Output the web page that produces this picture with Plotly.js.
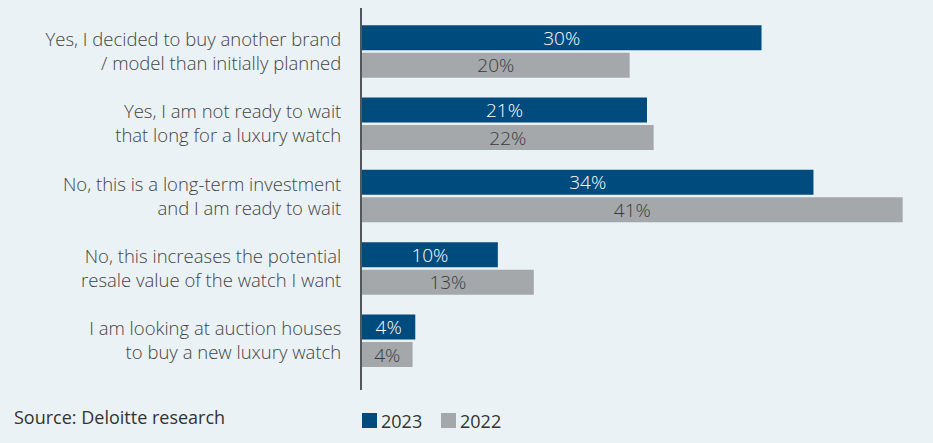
<!DOCTYPE html>
<html>
<head>
<meta charset="utf-8">
<script src="https://cdn.plot.ly/plotly-3.0.1.min.js"></script>
<style>
  html, body { margin: 0; padding: 0; background: #eaf2f6; }
  #chart { width: 933px; height: 443px; }
</style>
</head>
<body>
<div id="chart"></div>
<script>
// Answers, top to bottom
const categories = [
  "Yes, I decided to buy another brand<br>/ model than initially planned",
  "Yes, I am not ready to wait<br>that long for a luxury watch",
  "No, this is a long-term investment<br>and I am ready to wait",
  "No, this increases the potential<br>resale value of the watch I want",
  "I am looking at auction houses<br>to buy a new luxury watch"
];

// Share of respondents (%), bar lengths
const values2023 = [30.0, 21.4, 33.9, 10.2, 4.0];
const values2022 = [20.1, 21.9, 40.6, 12.9, 3.8];

// Printed labels
const labels2023 = ["30%", "21%", "34%", "10%", "4%"];
const labels2022 = ["20%", "22%", "41%", "13%", "4%"];

const seriesNames = ["2023", "2022"];
const seriesColors = ["#004b7d", "#a5a8ab"];

const labelFont = "Open Sans, sans-serif";

let trace2023 = {
  type: "bar",
  orientation: "h",
  name: seriesNames[0],
  y: categories,
  x: values2023,
  text: labels2023,
  textposition: "inside",
  insidetextanchor: "middle",
  textangle: 0,
  constraintext: "none",
  textfont: { family: labelFont, size: 19, color: "#ffffff", weight: 300 },
  marker: { color: seriesColors[0] },
  hoverinfo: "none",
  showlegend: false
};

let trace2022 = {
  type: "bar",
  orientation: "h",
  name: seriesNames[1],
  y: categories,
  x: values2022,
  text: labels2022,
  textposition: "inside",
  insidetextanchor: "middle",
  textangle: 0,
  constraintext: "none",
  textfont: { family: labelFont, size: 19, color: "#3a3a3a", weight: 300 },
  marker: { color: seriesColors[1] },
  hoverinfo: "none",
  showlegend: false
};

// Hand-made legend below the plot (square + label per series),
// offsets in pixels from the bottom-left corner of the plot area
let legendShapes = [];
let legendTexts = [];
let legendX = 0;
seriesNames.forEach((name, i) => {
  legendShapes.push({
    type: "rect",
    xref: "paper", yref: "paper",
    xsizemode: "pixel", ysizemode: "pixel",
    xanchor: 0, yanchor: 0,
    x0: legendX, x1: legendX + 15,
    y0: -23, y1: -38,
    fillcolor: seriesColors[i],
    line: { width: 0 }
  });
  legendTexts.push({
    xref: "paper", yref: "paper",
    x: 0, y: 0,
    xshift: legendX + 17, yshift: -31,
    xanchor: "left", yanchor: "middle",
    showarrow: false,
    text: name,
    font: { family: labelFont, size: 18, color: "#333333" }
  });
  legendX += 79;
});

let layout = {
  width: 933,
  height: 443,
  margin: { l: 362, r: 13, t: 8, b: 53 },
  paper_bgcolor: "#eaf2f6",
  plot_bgcolor: "#eaf2f6",
  barmode: "group",
  bargap: 0.24,
  bargroupgap: 0.09,
  showlegend: false,
  xaxis: {
    range: [0, 41.9],
    visible: false,
    fixedrange: true
  },
  yaxis: {
    type: "category",
    range: [4.68, -0.6],
    showgrid: false,
    zeroline: false,
    showline: true,
    linecolor: "#54585b",
    linewidth: 2,
    ticks: "",
    ticklabelstandoff: 15,
    tickfont: { family: labelFont, size: 18.5, color: "#444444", weight: 300 },
    fixedrange: true
  },
  shapes: legendShapes,
  annotations: [
    {
      xref: "paper", yref: "paper",
      x: 0, y: 0,
      xshift: -350, yshift: -27,
      xanchor: "left", yanchor: "middle",
      showarrow: false,
      text: "Source: Deloitte research",
      font: { family: labelFont, size: 18, color: "#333333" }
    },
    ...legendTexts
  ]
};

Plotly.newPlot("chart", [trace2023, trace2022], layout, { displayModeBar: false, staticPlot: true });
</script>
</body>
</html>
